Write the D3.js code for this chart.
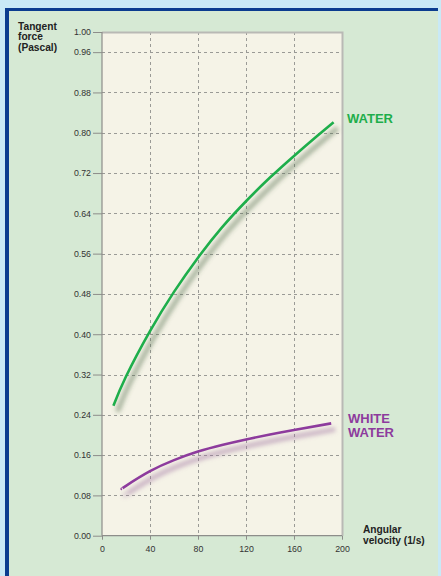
<!DOCTYPE html>
<html>
<head>
<meta charset="utf-8">
<script src="https://cdn.jsdelivr.net/npm/d3@7"></script>
<style>
  html, body { margin: 0; padding: 0; background: #c9e9f6; }
  svg { display: block; font-family: "Liberation Sans", Arial, sans-serif; }
</style>
</head>
<body>
<svg id="chart" width="441" height="576"></svg>
<script>
// data
const xTicks = [0, 40, 80, 120, 160, 200];
const yTicks = [0, 0.08, 0.16, 0.24, 0.32, 0.40, 0.48, 0.56, 0.64, 0.72, 0.80, 0.88, 0.96, 1.00];
const waterX = [9.5, 20, 40, 60, 80, 100, 120, 140, 160, 180, 193];
const waterY = [0.258, 0.316, 0.406, 0.484, 0.552, 0.612, 0.664, 0.711, 0.754, 0.795, 0.821];
const whiteX = [16.5, 20, 40, 60, 80, 100, 120, 140, 160, 191];
const whiteY = [0.093, 0.099, 0.128, 0.15, 0.167, 0.18, 0.191, 0.201, 0.21, 0.223];
const series = [
    { name: ['WATER'], xs: waterX, ys: waterY, colour: '#1eae4b', shadow: '#4f6a4a' },
    { name: ['WHITE', 'WATER'], xs: whiteX, ys: whiteY, colour: '#8d3b9d', shadow: '#9a6a9e' }
];

const svg = d3.select('#chart');

// panel background + dark blue frame on top and left
svg.append('rect').attr('x', 5).attr('y', 8).attr('width', 433).attr('height', 568).attr('fill', '#0b3c8f');
svg.append('rect').attr('x', 9).attr('y', 11).attr('width', 429).attr('height', 565).attr('fill', '#d6e9d4');

const x = d3.scaleLinear().domain([0, 200]).range([102, 342]);
const y = d3.scaleLinear().domain([0, 1]).range([535.7, 32]);

const defs = svg.append('defs');
defs.append('filter').attr('id', 'blur')
    .attr('x', '-20%').attr('y', '-20%').attr('width', '140%').attr('height', '140%')
    .append('feGaussianBlur').attr('stdDeviation', 2.2);

// plot background
svg.append('rect')
    .attr('x', x(0)).attr('y', y(1))
    .attr('width', x(200) - x(0)).attr('height', y(0) - y(1))
    .attr('fill', '#f5f3e7');

// gridlines
const grid = svg.append('g').attr('stroke', '#9a9a96').attr('stroke-width', 1).attr('stroke-dasharray', '3,3');
grid.selectAll('.hg').data(yTicks.filter(d => d > 0 && d < 1)).enter().append('line')
    .attr('x1', x(0)).attr('x2', x(200))
    .attr('y1', d => Math.round(y(d)) + 0.5).attr('y2', d => Math.round(y(d)) + 0.5);
grid.selectAll('.vg').data(xTicks.filter(d => d > 0 && d < 200)).enter().append('line')
    .attr('y1', y(1)).attr('y2', y(0))
    .attr('x1', d => Math.round(x(d)) + 0.5).attr('x2', d => Math.round(x(d)) + 0.5);

// top and right edges of the plot
svg.append('path')
    .attr('d', `M${x(0)},${y(1) + 0.5}H${x(200) + 0.5}V${y(0)}`)
    .attr('fill', 'none').attr('stroke', '#b9b9b5').attr('stroke-width', 2);

// axes
const yAxis = d3.axisLeft(y).tickValues(yTicks).tickFormat(d3.format('.2f')).tickSize(9).tickPadding(2);
const gy = svg.append('g').attr('transform', `translate(${x(0)},0)`).call(yAxis);
const xAxis = d3.axisBottom(x).tickValues(xTicks).tickFormat(d3.format('d')).tickSize(4).tickPadding(6);
const gx = svg.append('g').attr('transform', `translate(0,${y(0)})`).call(xAxis);
[gx, gy].forEach(g => {
    g.select('.domain').attr('stroke', '#8d8d8a').attr('stroke-width', 1.2);
    g.selectAll('.tick line').attr('stroke', '#8d8d8a');
    g.selectAll('.tick text').attr('fill', '#333').attr('font-size', 8.8)
        .attr('font-family', '"Liberation Sans", Arial, sans-serif');
});
gy.select('.domain').attr('d', `M0,${y(0)}V${y(1)}`);
gx.select('.domain').attr('d', `M${x(0)},0H${x(200)}`);

// curves with soft drop shadows
const line = d3.line()
    .x(d => x(d[0]))
    .y(d => y(d[1]))
    .curve(d3.curveNatural);

series.forEach(s => {
    const pts = s.xs.map((v, i) => [v, s.ys[i]]);
    svg.append('path')
        .datum(pts)
        .attr('d', line)
        .attr('transform', 'translate(4,6)')
        .attr('fill', 'none')
        .attr('stroke', s.shadow)
        .attr('stroke-opacity', 0.45)
        .attr('stroke-width', 5)
        .attr('filter', 'url(#blur)');
    svg.append('path')
        .datum(pts)
        .attr('d', line)
        .attr('fill', 'none')
        .attr('stroke', s.colour)
        .attr('stroke-width', 2.6);
});

// series labels
const labelPos = [{ x: 347, y: 123 }, { x: 348, y: 423 }];
series.forEach((s, i) => {
    const t = svg.append('text')
        .attr('x', labelPos[i].x).attr('y', labelPos[i].y)
        .attr('fill', s.colour)
        .attr('font-size', 13).attr('font-weight', 'bold');
    s.name.forEach((n, j) => {
        t.append('tspan').attr('x', labelPos[i].x).attr('dy', j === 0 ? 0 : 13.5).text(n);
    });
});

// axis titles
function title(lines, x0, y0, lh) {
    const t = svg.append('text').attr('x', x0).attr('y', y0)
        .attr('fill', '#222').attr('font-size', 10.2).attr('font-weight', 'bold');
    lines.forEach((l, j) => {
        t.append('tspan').attr('x', x0).attr('dy', j === 0 ? 0 : lh).text(l);
    });
}
title(['Tangent', 'force', '(Pascal)'], 18, 29.5, 10.5);
title(['Angular', 'velocity (1/s)'], 363, 533, 10.5);
</script>
</body>
</html>
